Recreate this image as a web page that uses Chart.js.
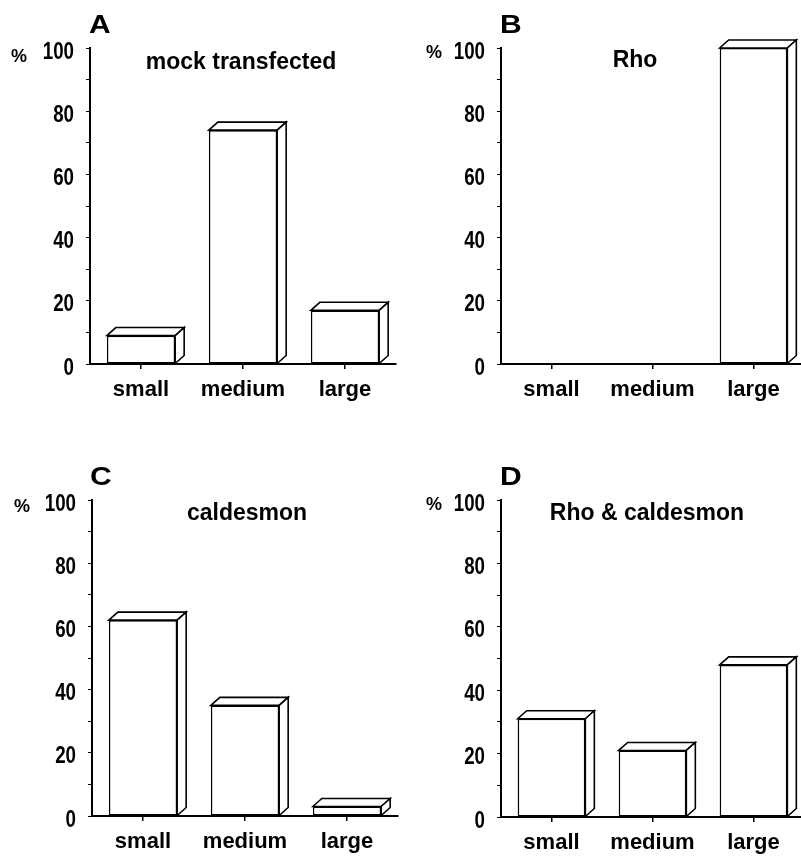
<!DOCTYPE html>
<html>
<head>
<meta charset="utf-8">
<script src="https://cdn.jsdelivr.net/npm/chart.js@4"></script>
<style>
  html, body { margin: 0; padding: 0; background: #fff; overflow: hidden; }
  body { width: 801px; height: 856px; position: relative; }
  canvas { position: absolute; }
</style>
</head>
<body>
<canvas id="chartA" width="400" height="428" style="left:0px;top:0px"></canvas>
<canvas id="chartB" width="404" height="428" style="left:400px;top:0px"></canvas>
<canvas id="chartC" width="400" height="416" style="left:0px;top:440px"></canvas>
<canvas id="chartD" width="404" height="416" style="left:400px;top:440px"></canvas>
<script>
const categories = ['small', 'medium', 'large'];
const mockValues = [9, 74, 17];
const rhoValues = [0, 0, 100];
const caldesmonValues = [62, 35, 3];
const rhoCaldesmonValues = [31, 21, 48];
const yTickLabels = ['0', '20', '40', '60', '80', '100'];
const panelLetters = ['A', 'B', 'C', 'D'];
const panelTitles = ['mock transfected', 'Rho', 'caldesmon', 'Rho & caldesmon'];

const SANS = '"Liberation Sans", Arial, sans-serif';

// layout of each panel inside its canvas (chart area edges, text spots)
const panels = [
    { id: 'chartA', values: mockValues, left: 90, top: 48, bottom: 364, right: 4,
      letter: [89, 33], title: [241, 69], pct: [11, 62] },
    { id: 'chartB', values: rhoValues, left: 101, top: 48, bottom: 364, right: 0,
      letter: [100, 33], title: [235, 67], pct: [26, 58] },
    { id: 'chartC', values: caldesmonValues, left: 92, top: 60, bottom: 376, right: 2,
      letter: [90, 45], title: [247, 80], pct: [14, 72] },
    { id: 'chartD', values: rhoCaldesmonValues, left: 101, top: 60, bottom: 377, right: 0,
      letter: [100, 45], title: [247, 80], pct: [26, 70] }
];

// draws the top and side faces so the bars look like boxes
const depthPlugin = {
    id: 'depth',
    afterDatasetsDraw(chart) {
        const ctx = chart.ctx;
        const dx = 9, dy = 8;
        const meta = chart.getDatasetMeta(0);
        ctx.save();
        ctx.strokeStyle = '#000';
        ctx.fillStyle = '#fff';
        ctx.lineWidth = 1.6;
        meta.data.forEach((bar, i) => {
            if (!chart.data.datasets[0].data[i]) return;
            const p = bar.getProps(['x', 'y', 'width', 'base'], true);
            const l = p.x - p.width / 2, r = p.x + p.width / 2;
            const t = p.y, b = p.base;
            ctx.beginPath();
            ctx.moveTo(l, t);
            ctx.lineTo(l + dx, t - dy);
            ctx.lineTo(r + dx, t - dy);
            ctx.lineTo(r, t);
            ctx.closePath();
            ctx.fill();
            ctx.stroke();
            ctx.beginPath();
            ctx.moveTo(r, t);
            ctx.lineTo(r + dx, t - dy);
            ctx.lineTo(r + dx, b - dy);
            ctx.lineTo(r, b);
            ctx.closePath();
            ctx.fill();
            ctx.stroke();
        });
        ctx.restore();
    }
};

// panel letter, title, % sign and the condensed y tick numbers
const labelPlugin = {
    id: 'panelText',
    afterDraw(chart, args, opts) {
        const ctx = chart.ctx;
        const ys = chart.scales.y;
        ctx.save();
        ctx.fillStyle = '#000';
        ctx.textBaseline = 'alphabetic';

        ctx.save();
        ctx.translate(opts.letterPos[0], opts.letterPos[1]);
        ctx.scale(1.2, 1);
        ctx.textAlign = 'left';
        ctx.font = 'bold 25px ' + SANS;
        ctx.fillText(opts.letter, 0, 0);
        ctx.restore();

        ctx.textAlign = 'left';
        ctx.font = 'bold 18px ' + SANS;
        ctx.fillText('%', opts.pctPos[0], opts.pctPos[1]);

        ctx.textAlign = 'center';
        ctx.font = 'bold 23px ' + SANS;
        ctx.fillText(opts.title, opts.titlePos[0], opts.titlePos[1]);

        ctx.font = 'bold 24px ' + SANS;
        ctx.textAlign = 'right';
        ctx.textBaseline = 'middle';
        yTickLabels.forEach(lbl => {
            const y = ys.getPixelForValue(Number(lbl)) + 4;
            ctx.save();
            ctx.translate(ys.right - 16, y);
            ctx.scale(0.78, 1);
            ctx.fillText(lbl, 0, 0);
            ctx.restore();
        });
        ctx.restore();
    }
};

panels.forEach((p, k) => {
    const canvas = document.getElementById(p.id);
    const H = canvas.height;
    new Chart(canvas, {
        type: 'bar',
        data: {
            labels: categories,
            datasets: [{
                data: p.values,
                backgroundColor: '#fff',
                borderColor: '#000',
                borderWidth: 1.6,
                borderSkipped: false,
                barPercentage: 0.67,
                categoryPercentage: 1
            }]
        },
        options: {
            responsive: false,
            animation: false,
            devicePixelRatio: 1,
            layout: { padding: { top: p.top, right: p.right, left: 0, bottom: 0 } },
            plugins: {
                legend: { display: false },
                tooltip: { enabled: false },
                panelText: {
                    letter: panelLetters[k], letterPos: p.letter,
                    title: panelTitles[k], titlePos: p.title,
                    pctPos: p.pct
                }
            },
            scales: {
                x: {
                    grid: { drawOnChartArea: false, offset: false, tickLength: 5, color: '#000', lineWidth: 1.5 },
                    border: { display: true, color: '#000', width: 2 },
                    ticks: { color: '#000', padding: 8, font: { family: SANS, size: 22, weight: 'bold' } },
                    afterFit: s => { s.height = H - p.bottom; }
                },
                y: {
                    min: 0,
                    max: 100,
                    grid: { drawOnChartArea: false, tickLength: 4, color: '#000', lineWidth: 1 },
                    border: { display: true, color: '#000', width: 2 },
                    ticks: { stepSize: 10, autoSkip: false, display: false },
                    afterFit: s => { s.width = p.left; }
                }
            }
        },
        plugins: [depthPlugin, labelPlugin]
    });
});
</script>
</body>
</html>
